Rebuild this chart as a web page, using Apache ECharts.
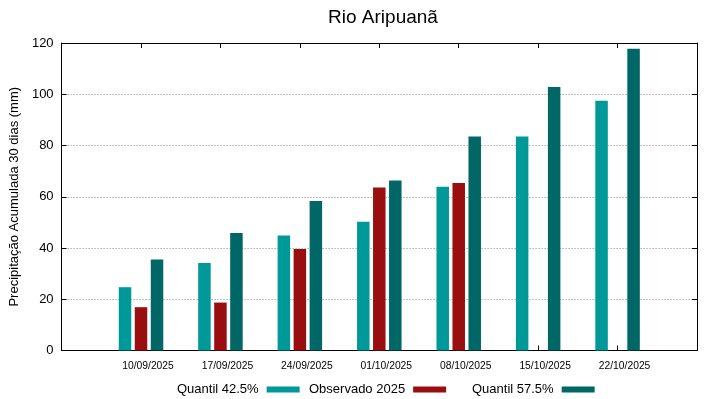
<!DOCTYPE html>
<html>
<head>
<meta charset="utf-8">
<script src="https://cdn.jsdelivr.net/npm/echarts@6/dist/echarts.min.js"></script>
<style>
  html, body { margin: 0; padding: 0; background: #fff; }
  #chart { width: 719px; height: 399px; }
</style>
</head>
<body>
<div id="chart"></div>
<script>
// dados
const datas = ['10/09/2025', '17/09/2025', '24/09/2025', '01/10/2025', '08/10/2025', '15/10/2025', '22/10/2025'];
const quantil425 = [24.7, 34.1, 44.9, 50.2, 63.9, 83.5, 97.5];
const observado2025 = [16.9, 18.7, 39.6, 63.6, 65.4, null, null];
const quantil575 = [35.5, 45.9, 58.3, 66.3, 83.5, 102.8, 117.8];
const yTicks = [0, 20, 40, 60, 80, 100, 120];

const cores = { q1: '#009999', obs: '#990e0e', q2: '#006666' };
const fonte = 'Liberation Sans, Arial, sans-serif';

// posição i+1: deixa uma folga de uma semana antes e depois das datas
function pares(vals) {
  return vals.map((v, i) => [i + 1, v == null ? '-' : v]);
}

const chart = echarts.init(document.getElementById('chart'));

const legendaBase = {
  top: 378,
  align: 'right',
  icon: 'rect',
  itemWidth: 33,
  itemHeight: 6,
  selectedMode: false,
  textStyle: { fontFamily: fonte, fontSize: 13, color: '#000', padding: [0, 3, 0, 0] }
};

function eixoLinha(onZero) { return { show: true, onZero: onZero, lineStyle: { color: '#000', width: 1 } }; }
function eixoTick() { return { show: true, inside: true, length: 5, lineStyle: { color: '#000', width: 1 } }; }

chart.setOption({
  animation: false,
  title: {
    text: 'Rio Aripuanã',
    left: 378,
    textAlign: 'center',
    top: 3,
    textStyle: { fontFamily: fonte, fontSize: 19, fontWeight: 'normal', color: '#000' }
  },
  legend: [
    Object.assign({ left: 172, data: ['Quantil 42.5%'] }, legendaBase),
    Object.assign({ left: 304, data: ['Observado 2025'] }, legendaBase),
    Object.assign({ left: 467, data: ['Quantil 57.5%'] }, legendaBase)
  ],
  grid: { left: 59, right: 22, top: 43, bottom: 48.5 },
  xAxis: [{
    type: 'value', min: 0, max: 8, interval: 1,
    axisLine: eixoLinha(true),
    axisTick: eixoTick(),
    splitLine: { show: false },
    axisLabel: {
      fontFamily: fonte, fontSize: 10.3, color: '#000', margin: 11,
      padding: [0, 0, 0, 14],
      formatter: v => datas[v - 1] || ''
    }
  }, {
    type: 'value', position: 'top', min: 0, max: 8, interval: 1,
    axisLine: eixoLinha(false),
    axisTick: eixoTick(),
    splitLine: { show: false },
    axisLabel: { show: false }
  }],
  yAxis: [{
    type: 'value', min: 0, max: 120, interval: 20,
    name: 'Precipitação Acumulada 30 dias (mm)',
    nameLocation: 'middle', nameGap: 33,
    nameTextStyle: { fontFamily: fonte, fontSize: 13, color: '#000' },
    axisLine: eixoLinha(true),
    axisTick: eixoTick(),
    splitLine: { show: true, lineStyle: { color: '#888', type: [1, 2], width: 1 } },
    axisLabel: {
      fontFamily: fonte, fontSize: 13, color: '#000', margin: 8,
      formatter: v => yTicks.includes(v) ? String(v) : ''
    }
  }, {
    type: 'value', position: 'right', min: 0, max: 120, interval: 20,
    axisLine: eixoLinha(false),
    axisTick: eixoTick(),
    splitLine: { show: false },
    axisLabel: { show: false }
  }],
  series: [{
    name: 'Quantil 42.5%', type: 'bar', barWidth: 12.5, barGap: '28%',
    itemStyle: { color: cores.q1 },
    data: pares(quantil425)
  }, {
    name: 'Observado 2025', type: 'bar', barWidth: 12.5, barGap: '28%',
    itemStyle: { color: cores.obs },
    data: pares(observado2025)
  }, {
    name: 'Quantil 57.5%', type: 'bar', barWidth: 12.5, barGap: '28%',
    itemStyle: { color: cores.q2 },
    data: pares(quantil575)
  }]
});
</script>
</body>
</html>
